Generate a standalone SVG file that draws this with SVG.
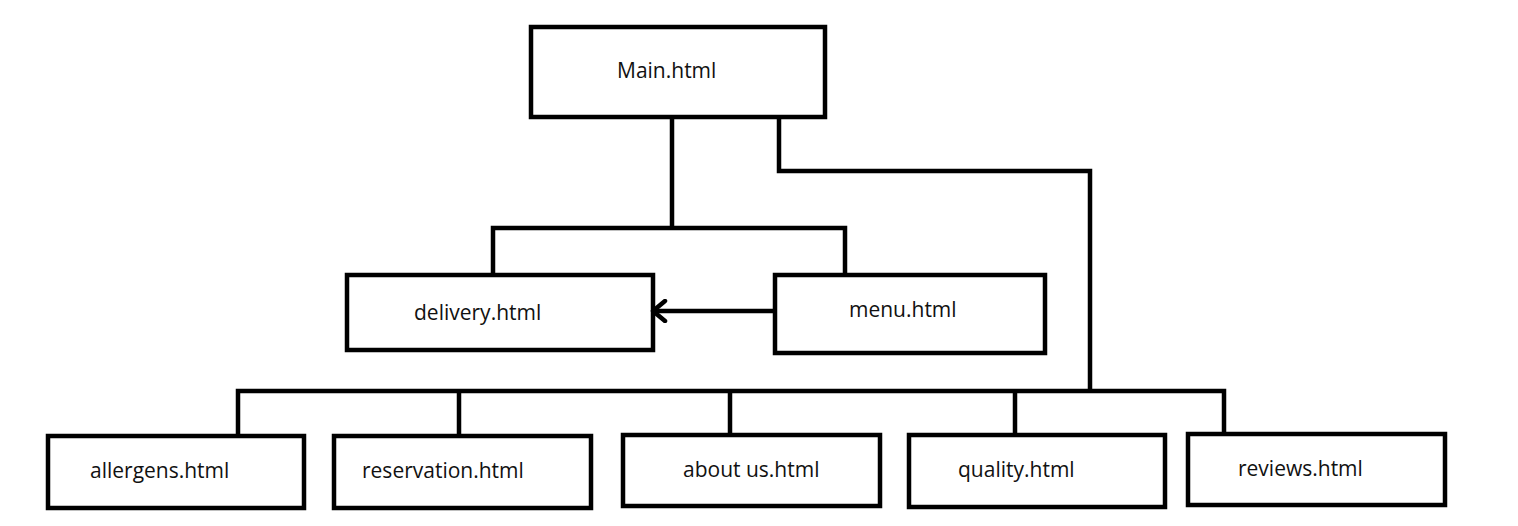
<svg xmlns="http://www.w3.org/2000/svg" width="1518" height="526" viewBox="0 0 1518 526">
<style>
.box{fill:#fff;stroke:#000;stroke-width:4.5}
.ln{fill:none;stroke:#000;stroke-width:4.5;stroke-linejoin:miter}
text{font-family:"Open Sans","Noto Sans",sans-serif;font-size:21px;fill:#111}
</style>
<defs>
<marker id="ah" markerUnits="userSpaceOnUse" markerWidth="20" markerHeight="24" refX="16" refY="12" orient="auto-start-reverse" viewBox="0 0 20 24">
<path d="M4,2 L16,12 L4,22" fill="none" stroke="#000" stroke-width="4.5" stroke-linecap="round" stroke-linejoin="round"/>
</marker>
</defs>
<rect width="1518" height="526" fill="#fff"/>
<g id="main"><rect class="box" x="531" y="27" width="294" height="90"/><text x="617" y="78">Main.html</text></g>
<g id="delivery"><rect class="box" x="347" y="275" width="306" height="75"/><text x="414" y="320">delivery.html</text></g>
<g id="menu"><rect class="box" x="775" y="275" width="270" height="78"/><text x="849" y="317">menu.html</text></g>
<g id="allergens"><rect class="box" x="48" y="436" width="256" height="72"/><text x="90" y="478">allergens.html</text></g>
<g id="reservation"><rect class="box" x="334" y="436" width="257" height="72"/><text x="362" y="478">reservation.html</text></g>
<g id="aboutus"><rect class="box" x="623" y="435" width="257" height="71"/><text x="683" y="477">about us.html</text></g>
<g id="quality"><rect class="box" x="909" y="435" width="256" height="72"/><text x="958" y="477">quality.html</text></g>
<g id="reviews"><rect class="box" x="1188" y="434" width="257" height="71"/><text x="1238" y="476">reviews.html</text></g>
<g id="connectors">
<path class="ln" d="M672,117 V228 M493,275 V228 H845 V275"/>
<path class="ln" d="M779,117 V171 H1090 V391 M238,436 V391 H1224 V434 M459,436 V391 M730,435 V391 M1015,435 V391"/>
<path class="ln" d="M773,311 H653" marker-end="url(#ah)"/>
</g>
</svg>
